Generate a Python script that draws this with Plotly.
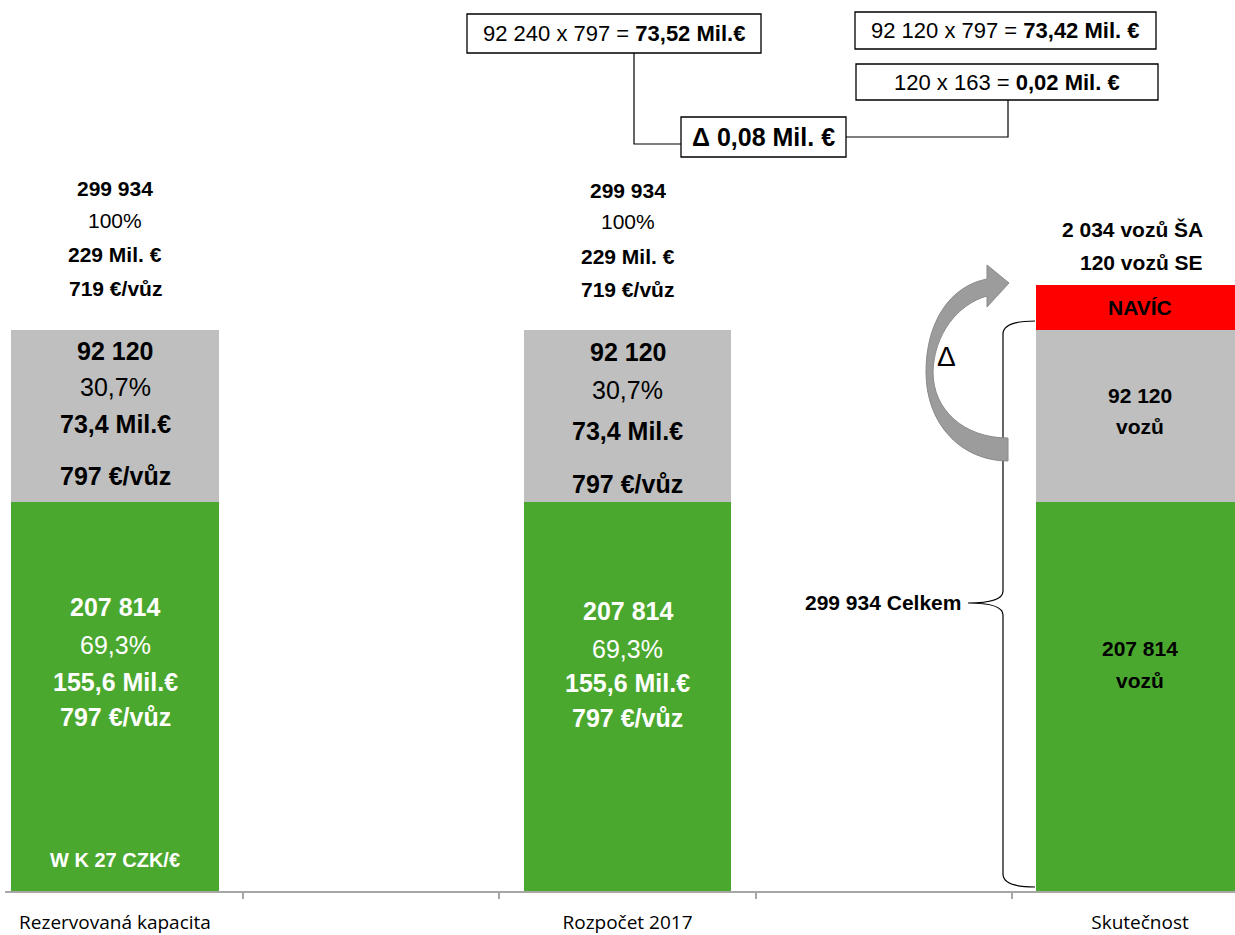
import plotly.graph_objects as go

# ---- data ----
categories = ["Rezervovaná kapacita", "Rozpočet 2017", "Skutečnost"]
cat_pos = [0, 2, 4]
green_vals = [207814, 207814, 207814]
gray_vals = [92120, 92120, 92120]
navic_vals = [0, 0, 24000]

# ---- geometry helpers (pixels -> paper) ----
FIG_W, FIG_H = 1235, 935
M_L, M_R, M_T, M_B = 5, 0, 0, 44
PW = FIG_W - M_L - M_R
PH = FIG_H - M_T - M_B


def px(x):
    return (x - M_L) / PW


def py(y):
    return (M_T + PH - y) / PH


GREEN = "#4BA82E"
GRAY = "#BFBFBF"
RED = "#FF0000"
FONT = "Liberation Sans"

fig = go.Figure()
fig.add_trace(go.Bar(x=cat_pos, y=green_vals, marker_color=GREEN, width=0.808,
                     marker_line_width=0, hoverinfo="skip"))
fig.add_trace(go.Bar(x=cat_pos, y=gray_vals, marker_color=GRAY, width=0.808,
                     marker_line_width=0, hoverinfo="skip"))
fig.add_trace(go.Bar(x=cat_pos, y=navic_vals, marker_color=RED, width=0.808,
                     marker_line_width=0, hoverinfo="skip"))

ann = []


def txt(x, y, s, size, color="#000000", xref="x", xanchor="center"):
    ann.append(dict(x=x, y=py(y), xref=xref, yref="paper", text=s, showarrow=False,
                    xanchor=xanchor, yanchor="middle",
                    font=dict(family=FONT, size=size, color=color)))


# bar 1 & 2 labels
for xc, tops, grays, greens in [
    (0, [188, 221, 254, 288], [351, 387, 424, 476], [607, 645, 682, 717]),
    (2, [190, 222, 256, 290], [352, 390, 431, 484], [611, 649, 683, 718]),
]:
    txt(xc, tops[0], "<b>299 934</b>", 21)
    txt(xc, tops[1], "100%", 21)
    txt(xc, tops[2], "<b>229 Mil. €</b>", 21)
    txt(xc, tops[3], "<b>719 €/vůz</b>", 21)
    txt(xc, grays[0], "<b>92 120</b>", 25)
    txt(xc, grays[1], "30,7%", 25)
    txt(xc, grays[2], "<b>73,4 Mil.€</b>", 25)
    txt(xc, grays[3], "<b>797 €/vůz</b>", 25)
    txt(xc, greens[0], "<b>207 814</b>", 25, "#FFFFFF")
    txt(xc, greens[1], "69,3%", 25, "#FFFFFF")
    txt(xc, greens[2], "<b>155,6 Mil.€</b>", 25, "#FFFFFF")
    txt(xc, greens[3], "<b>797 €/vůz</b>", 25, "#FFFFFF")

txt(0, 860, "<b>W K 27 CZK/€</b>", 20, "#FFFFFF")

# bar 3 labels
txt(px(1205), 229, "<b>2 034 vozů ŠA</b>", 21, xref="paper", xanchor="right")
txt(px(1205), 262, "<b>120 vozů SE</b>", 21, xref="paper", xanchor="right")
txt(4, 307, "<b>NAVÍC</b>", 21)
txt(4, 395, "<b>92 120</b>", 21)
txt(4, 426, "<b>vozů</b>", 21)
txt(4, 648, "<b>207 814</b>", 21)
txt(4, 680, "<b>vozů</b>", 21)

txt(px(963), 603, "<b>299 934 Celkem</b>", 21, xref="paper", xanchor="right")
txt(px(946), 357, "Δ", 28, xref="paper")

# boxes
boxes = [
    ((467, 14, 761, 53), "92 240 x 797 = <b>73,52 Mil.€</b>", 22),
    ((855, 12, 1156, 49), "92 120 x 797 = <b>73,42 Mil. €</b>", 22),
    ((856, 64, 1158, 100), "120 x 163 = <b>0,02 Mil. €</b>", 22),
    ((681, 117, 846, 157), "<b>Δ 0,08 Mil. €</b>", 25),
]
shapes = []
for (x0, y0, x1, y1), s, size in boxes:
    shapes.append(dict(type="rect", xref="paper", yref="paper",
                       x0=px(x0), x1=px(x1), y0=py(y1), y1=py(y0),
                       line=dict(color="#000000", width=1.3), fillcolor="#FFFFFF",
                       layer="below"))
    txt(px((x0 + x1) / 2), (y0 + y1) / 2, s, size, xref="paper")


def path(points_cmd):
    out = []
    for item in points_cmd:
        if isinstance(item, str):
            out.append(item)
        else:
            out.append(f"{px(item[0]):.5f},{py(item[1]):.5f}")
    return " ".join(out)


# connector lines
shapes.append(dict(type="path", xref="paper", yref="paper",
                   path=path(["M", (634, 53), "L", (634, 144), "L", (681, 144)]),
                   line=dict(color="#000000", width=1.2)))
shapes.append(dict(type="path", xref="paper", yref="paper",
                   path=path(["M", (846, 137), "L", (1008, 137), "L", (1008, 100)]),
                   line=dict(color="#000000", width=1.2)))

# brace
shapes.append(dict(type="path", xref="paper", yref="paper",
                   path=path(["M", (1035, 321), "Q", (1003, 321), (1003, 334),
                              "L", (1003, 591), "Q", (1003, 603), (968, 603),
                              "Q", (1003, 603), (1003, 615),
                              "L", (1003, 874), "Q", (1003, 887), (1035, 887)]),
                   line=dict(color="#000000", width=1.2)))

# curved arrow
shapes.append(dict(type="path", xref="paper", yref="paper",
                   path=path(["M", (1008, 461),
                              "C", (962, 461), (926, 425), (926, 372),
                              "C", (926, 322), (950, 286), (987, 279),
                              "L", (987, 265), "L", (1009, 283), "L", (987, 307),
                              "L", (987, 296),
                              "C", (958, 304), (934, 334), (933, 372),
                              "C", (933, 410), (964, 438), (1008, 438), "Z"]),
                   fillcolor="#9C9C9C", line=dict(color="#8A8A8A", width=1)))

fig.update_layout(
    width=FIG_W, height=FIG_H,
    margin=dict(l=M_L, r=M_R, t=M_T, b=M_B, pad=0),
    barmode="stack", showlegend=False,
    plot_bgcolor="#FFFFFF", paper_bgcolor="#FFFFFF",
    annotations=ann, shapes=shapes,
    xaxis=dict(range=[-110 / 256.25, 4 + 95 / 256.25],
               tickvals=cat_pos, ticktext=categories, ticks="",
               showline=True, linecolor="#A6A6A6", linewidth=1.5,
               showgrid=False, zeroline=False, ticklabelstandoff=13,
               tickfont=dict(family="Open Sans", size=19, color="#000000"),
               minor=dict(tickvals=[0.5, 1.5, 2.5, 3.5], ticks="outside",
                          ticklen=6, tickcolor="#A6A6A6", tickwidth=1.5,
                          showgrid=False)),
    yaxis=dict(range=[0, 476000], visible=False, showgrid=False, zeroline=False),
)

fig.write_html("out.html")
